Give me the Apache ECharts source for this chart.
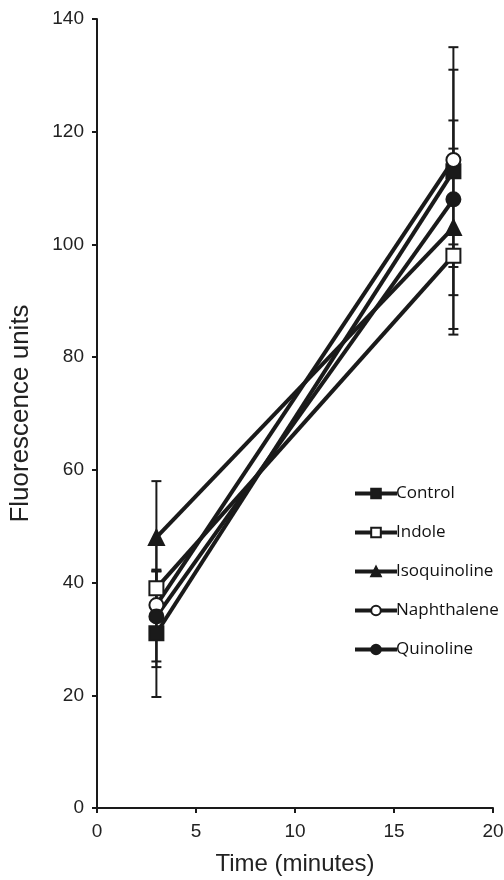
<!DOCTYPE html>
<html>
<head>
<meta charset="utf-8">
<script src="https://cdn.jsdelivr.net/npm/echarts@6/dist/echarts.min.js"></script>
<style>html,body{margin:0;padding:0;background:#fff}#c{width:504px;height:880px}</style>
</head>
<body>
<div id="c"></div>
<script>
var times = [3, 18];
var seriesNames = ['Control', 'Indole', 'Isoquinoline', 'Naphthalene', 'Quinoline'];
var control = [31, 113];
var indole = [39, 98];
var isoquinoline = [48, 103];
var naphthalene = [36, 115];
var quinoline = [34, 108];
var controlErr = [11.3, 22];
var indoleErr = [3, 2];
var isoquinolineErr = [10, 19];
var naphthaleneErr = [11, 2];
var quinolineErr = [8, 23];
var xTicks = [0, 5, 10, 15, 20];
var yTicks = [0, 20, 40, 60, 80, 100, 120, 140];

var values = [control, indole, isoquinoline, naphthalene, quinoline];
var errs = [controlErr, indoleErr, isoquinolineErr, naphthaleneErr, quinolineErr];
var symbols = ['rect', 'emptyRect', 'triangle', 'emptyCircle', 'circle'];
var ink = '#1a1a1a';

var errData = [];
values.forEach(function (v, i) {
  v.forEach(function (y, j) {
    errData.push([times[j], y - errs[i][j], y + errs[i][j]]);
  });
});

var series = [{
  type: 'custom',
  silent: true,
  z: 1,
  data: errData,
  renderItem: function (params, api) {
    var x = api.value(0);
    var lo = api.coord([x, api.value(1)]);
    var hi = api.coord([x, api.value(2)]);
    var w = 5;
    var st = { stroke: ink, lineWidth: 2 };
    return {
      type: 'group',
      children: [
        { type: 'line', shape: { x1: lo[0], y1: lo[1], x2: hi[0], y2: hi[1] }, style: st },
        { type: 'line', shape: { x1: lo[0] - w, y1: lo[1], x2: lo[0] + w, y2: lo[1] }, style: st },
        { type: 'line', shape: { x1: hi[0] - w, y1: hi[1], x2: hi[0] + w, y2: hi[1] }, style: st }
      ]
    };
  }
}];

seriesNames.forEach(function (name, i) {
  series.push({
    name: name,
    type: 'line',
    z: 2,
    data: times.map(function (t, j) { return [t, values[i][j]]; }),
    symbol: symbols[i],
    symbolSize: symbols[i] === 'triangle' ? 15 : 14,
    showSymbol: true,
    lineStyle: { color: ink, width: 4 },
    itemStyle: { color: ink, borderColor: ink, borderWidth: 2 },
    emphasis: { disabled: true },
    animation: false
  });
});

var chart = echarts.init(document.getElementById('c'), null, { renderer: 'canvas' });
chart.setOption({
  animation: false,
  backgroundColor: '#fff',
  grid: { left: 97, right: 11, top: 19, bottom: 72, containLabel: false, outerBoundsMode: 'none' },
  legend: {
    orient: 'vertical',
    left: 348,
    top: 480,
    itemWidth: 42,
    itemHeight: 12,
    itemGap: 22,
    lineStyle: { width: 4 },
    textStyle: { fontFamily: 'Open Sans', fontSize: 17, lineHeight: 17, color: '#111', padding: [0, 0, 0, -6] },
    data: seriesNames
  },
  xAxis: {
    type: 'value',
    min: 0, max: 20, interval: 5,
    name: 'Time (minutes)',
    nameLocation: 'middle',
    nameGap: 44,
    nameTextStyle: { fontFamily: 'Liberation Sans', fontSize: 24, color: '#222' },
    axisLine: { lineStyle: { color: ink, width: 2 } },
    axisTick: { show: true, length: 5, lineStyle: { color: ink, width: 2 } },
    axisLabel: { fontFamily: 'Liberation Sans', fontSize: 19, color: '#222', margin: 14 },
    splitLine: { show: false }
  },
  yAxis: {
    type: 'value',
    min: 0, max: 140, interval: 20,
    name: 'Fluorescence units',
    nameLocation: 'middle',
    nameGap: 63,
    nameTextStyle: { fontFamily: 'Liberation Sans', fontSize: 26, color: '#222' },
    axisLine: { show: true, lineStyle: { color: ink, width: 2 } },
    axisTick: { show: true, length: 5, lineStyle: { color: ink, width: 2 } },
    axisLabel: { fontFamily: 'Liberation Sans', fontSize: 19, color: '#222', margin: 13 },
    splitLine: { show: false }
  },
  series: series
});
</script>
</body>
</html>
